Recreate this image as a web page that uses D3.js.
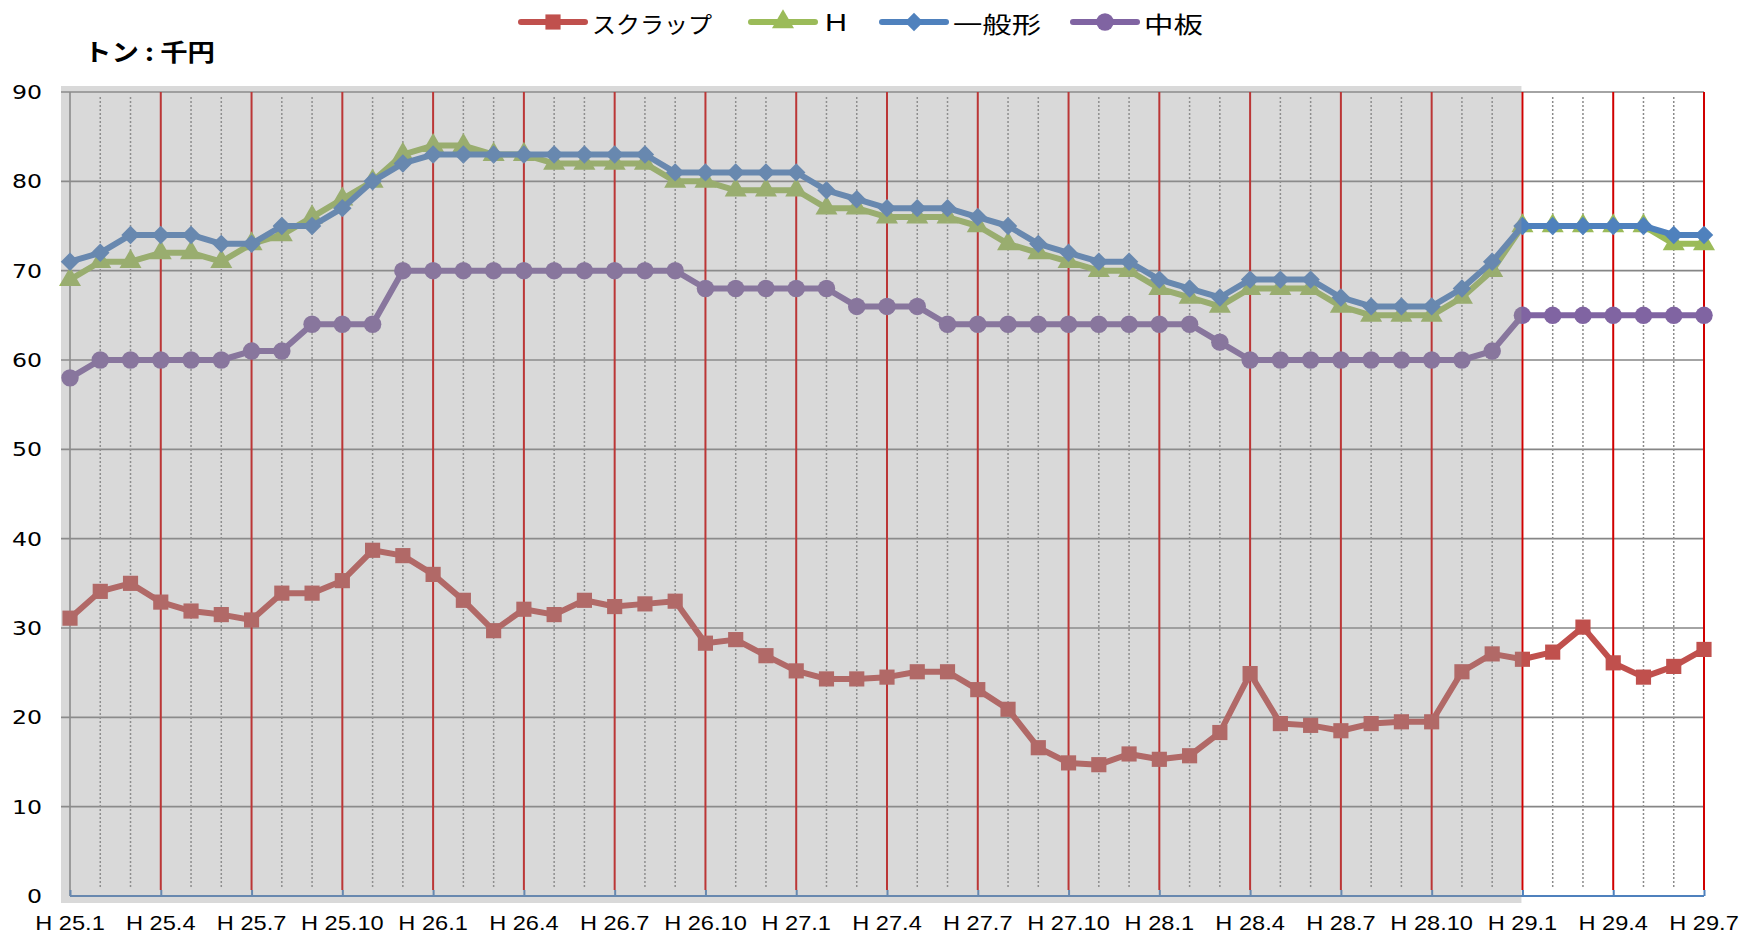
<!DOCTYPE html>
<html lang="ja">
<head>
<meta charset="UTF-8">
<title>鋼材価格推移</title>
<script src="https://d3js.org/d3.v7.min.js"></script>
<style>
  body { margin: 0; background: #fff; }
  svg { display: block; }
</style>
</head>
<body>
<div id="chart"></div>
<script>
// months H25.1 .. H29.7
const months = [
  "H25.1","H25.2","H25.3","H25.4","H25.5","H25.6","H25.7","H25.8","H25.9","H25.10","H25.11","H25.12",
  "H26.1","H26.2","H26.3","H26.4","H26.5","H26.6","H26.7","H26.8","H26.9","H26.10","H26.11","H26.12",
  "H27.1","H27.2","H27.3","H27.4","H27.5","H27.6","H27.7","H27.8","H27.9","H27.10","H27.11","H27.12",
  "H28.1","H28.2","H28.3","H28.4","H28.5","H28.6","H28.7","H28.8","H28.9","H28.10","H28.11","H28.12",
  "H29.1","H29.2","H29.3","H29.4","H29.5","H29.6","H29.7"
];
const tickMonths = [
  "H25.1","H25.4","H25.7","H25.10","H26.1","H26.4","H26.7","H26.10","H27.1","H27.4",
  "H27.7","H27.10","H28.1","H28.4","H28.7","H28.10","H29.1","H29.4","H29.7"
];
const yTicks = [0, 10, 20, 30, 40, 50, 60, 70, 80, 90];

const scrap = [
  31.1, 34.1, 35.0, 32.9, 31.9, 31.5, 30.9, 33.9, 33.9, 35.3, 38.7, 38.1,
  36.0, 33.1, 29.7, 32.1, 31.5, 33.1, 32.4, 32.7, 33.0, 28.3, 28.7, 26.9,
  25.2, 24.3, 24.3, 24.5, 25.1, 25.1, 23.1, 20.9, 16.6, 14.9, 14.7, 15.9,
  15.3, 15.7, 18.3, 24.9, 19.3, 19.1, 18.5, 19.3, 19.5, 19.5, 25.1, 27.1,
  26.5, 27.3, 30.1, 26.1, 24.5, 25.7, 27.6
];
const hBeam = [
  69, 71, 71, 72, 72, 71, 73, 74, 76, 78, 80, 83,
  84, 84, 83, 83, 82, 82, 82, 82, 80, 80, 79, 79,
  79, 77, 77, 76, 76, 76, 75, 73, 72, 71, 70, 70,
  68, 67, 66, 68, 68, 68, 66, 65, 65, 65, 67, 70,
  75, 75, 75, 75, 75, 73, 73
];
const general = [
  71, 72, 74, 74, 74, 73, 73, 75, 75, 77, 80, 82,
  83, 83, 83, 83, 83, 83, 83, 83, 81, 81, 81, 81,
  81, 79, 78, 77, 77, 77, 76, 75, 73, 72, 71, 71,
  69, 68, 67, 69, 69, 69, 67, 66, 66, 66, 68, 71,
  75, 75, 75, 75, 75, 74, 74
];
const plate = [
  58, 60, 60, 60, 60, 60, 61, 61, 64, 64, 64, 70,
  70, 70, 70, 70, 70, 70, 70, 70, 70, 68, 68, 68,
  68, 68, 66, 66, 66, 64, 64, 64, 64, 64, 64, 64,
  64, 64, 62, 60, 60, 60, 60, 60, 60, 60, 60, 61,
  65, 65, 65, 65, 65, 65, 65
];

const series = [
  { name: "スクラップ", values: scrap,   color: "#c0504d", symbol: "square" },
  { name: "H",          values: hBeam,   color: "#9bbb59", symbol: "triangle" },
  { name: "一般形",     values: general, color: "#4f81bd", symbol: "diamond" },
  { name: "中板",       values: plate,   color: "#8064a2", symbol: "circle" }
];

const W = 1746, H = 933;
const svg = d3.select("#chart").append("svg")
  .attr("width", W).attr("height", H);

const x = d3.scalePoint().domain(months).range([70, 1704]);
const y = d3.scaleLinear().domain([0, 90]).range([896, 92]);

const STRETCH = 1.18;
const gridColor = "#868686";

// horizontal gridlines (extend left past the axis like excel's outside ticks)
svg.append("g").selectAll("line")
  .data(yTicks.filter(d => d > 0))
  .join("line")
  .attr("x1", 61).attr("x2", x("H29.7"))
  .attr("y1", d => y(d)).attr("y2", d => y(d))
  .attr("stroke", gridColor).attr("stroke-width", 1.6);

// dotted minor month lines
const quarterSet = new Set(tickMonths);
svg.append("g").selectAll("line")
  .data(months.filter(m => !quarterSet.has(m)))
  .join("line")
  .attr("x1", d => x(d)).attr("x2", d => x(d))
  .attr("y1", 97).attr("y2", 889)
  .attr("stroke", "#8a8a8a").attr("stroke-width", 1.5)
  .attr("stroke-dasharray", "2,2");

// red quarter lines
svg.append("g").selectAll("line")
  .data(tickMonths.slice(1))
  .join("line")
  .attr("x1", d => x(d)).attr("x2", d => x(d))
  .attr("y1", y(90)).attr("y2", y(0) - 6)
  .attr("stroke", "#d00000").attr("stroke-width", 2);

// left axis line
svg.append("line")
  .attr("x1", x(months[0])).attr("x2", x(months[0]))
  .attr("y1", y(90)).attr("y2", y(0))
  .attr("stroke", gridColor).attr("stroke-width", 1.6);

// bottom axis (blue) with inside ticks
const xAxis = svg.append("g")
  .attr("transform", `translate(0,${y(0)})`)
  .call(d3.axisBottom(x).tickValues(tickMonths).tickSize(-6).tickFormat(""));
xAxis.select(".domain").attr("stroke", "#4f81bd").attr("stroke-width", 2.2)
  .attr("d", `M${x(months[0])},0H${x("H29.7")}`);
xAxis.selectAll(".tick line").attr("stroke", "#4f81bd").attr("stroke-width", 2);

// series lines + markers
const line = d3.line().x((d, i) => x(months[i])).y(d => y(d));
const symbolFor = {
  square: d3.symbol(d3.symbolSquare, 230)(),
  triangle: d3.symbol(d3.symbolTriangle, 210)(),
  diamond: d3.symbol(d3.symbolSquare, 170)(),
  circle: d3.symbol(d3.symbolCircle, 240)()
};
const rotFor = { square: 0, triangle: 0, diamond: 45, circle: 0 };

series.forEach(s => {
  const g = svg.append("g");
  g.append("path")
    .datum(s.values)
    .attr("d", line)
    .attr("fill", "none")
    .attr("stroke", s.color)
    .attr("stroke-width", 6)
    .attr("stroke-linejoin", "round");
  g.selectAll("path.mk")
    .data(s.values)
    .join("path")
    .attr("class", "mk")
    .attr("d", symbolFor[s.symbol])
    .attr("transform", (d, i) => `translate(${x(months[i])},${y(d)}) rotate(${rotFor[s.symbol]})`)
    .attr("fill", s.color);
});

// grey translucent panel over the H25.1 - H29.1 span
svg.append("rect")
  .attr("x", 61).attr("y", 86)
  .attr("width", x("H29.1") - 1 - 61).attr("height", 903 - 86)
  .attr("fill", "#969696").attr("opacity", 0.36);

// y labels
svg.append("g").selectAll("text")
  .data(yTicks)
  .join("text")
  .attr("transform", d => `translate(42,${y(d)}) scale(${STRETCH},1)`)
  .attr("text-anchor", "end")
  .attr("dominant-baseline", "central")
  .attr("font-family", "DejaVu Sans")
  .attr("font-size", 20)
  .text(d => d);

// x labels
svg.append("g").selectAll("text")
  .data(tickMonths)
  .join("text")
  .attr("transform", d => `translate(${x(d)},923) scale(${STRETCH},1)`)
  .attr("text-anchor", "middle")
  .attr("dominant-baseline", "central")
  .attr("font-family", "Liberation Sans")
  .attr("font-size", 20)
  .text(d => "H " + d.slice(1));

// unit title
svg.append("text")
  .attr("x", 84).attr("y", 50)
  .attr("dominant-baseline", "central")
  .attr("font-family", "Noto Sans CJK JP")
  .attr("font-weight", "bold")
  .attr("font-size", 24)
  .attr("textLength", 131).attr("lengthAdjust", "spacingAndGlyphs")
  .text("トン : 千円");

// legend
const legendX = [519, 749, 880, 1071];
const legendW = [120, 22, 88, 59];
const lg = svg.append("g");
series.forEach((s, i) => {
  const x0 = legendX[i];
  lg.append("line")
    .attr("x1", x0 + 2).attr("x2", x0 + 66)
    .attr("y1", 22).attr("y2", 22)
    .attr("stroke", s.color).attr("stroke-width", 6)
    .attr("stroke-linecap", "round");
  lg.append("path")
    .attr("d", symbolFor[s.symbol])
    .attr("transform", `translate(${x0 + 34},22) rotate(${rotFor[s.symbol]})`)
    .attr("fill", s.color);
  lg.append("text")
    .attr("x", x0 + 73 + (i === 1 ? 3 : 0)).attr("y", 23)
    .attr("dominant-baseline", "central")
    .attr("font-family", s.name === "H" ? "Liberation Sans" : "Noto Sans CJK JP")
    .attr("font-size", 23)
    .attr("textLength", legendW[i]).attr("lengthAdjust", "spacingAndGlyphs")
    .text(s.name);
});
</script>
</body>
</html>
